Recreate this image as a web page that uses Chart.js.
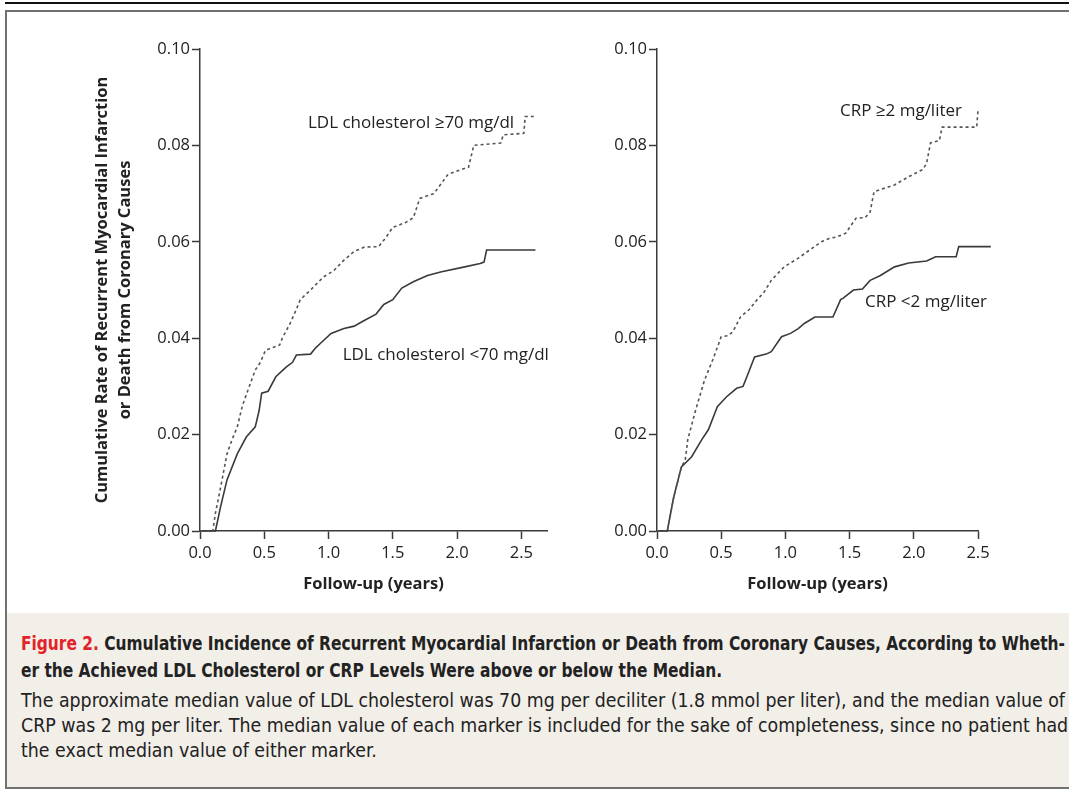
<!DOCTYPE html>
<html>
<head>
<meta charset="utf-8">
<script src="https://cdn.jsdelivr.net/npm/chart.js@4.4.0/dist/chart.umd.min.js"></script>
<style>
  body { margin: 0; width: 1069px; height: 792px; background: #fff; position: relative; overflow: hidden; font-family: "Open Sans", sans-serif; }
  #topline { position: absolute; left: 5px; top: 2px; width: 1064px; height: 2px; background: #111; }
  #panel { position: absolute; left: 5px; top: 10px; width: 1070px; height: 601px; border: 2px solid #717171; border-right: none; background: #fff; }
  #caption { position: absolute; left: 5px; top: 613px; width: 1070px; height: 174px; border: 2px solid #717171; border-top: none; border-right: none; background: #f2eee8; }
  #caption div { position: absolute; left: 14px; white-space: nowrap; font-family: "DejaVu Sans", sans-serif; font-stretch: condensed; color: #222; transform-origin: 0 50%; }
  .b { font-weight: bold; font-size: 20px; }
  .r { font-size: 20px; }
  .red { color: #e2232a; }
  canvas { position: absolute; }
</style>
</head>
<body>
<div id="topline"></div>
<div id="panel"></div>
<canvas id="ldlChart" width="500" height="581" style="left:80px; top:20px;"></canvas>
<canvas id="crpChart" width="461" height="581" style="left:537px; top:20px;"></canvas>
<div id="caption">
  <div class="b" data-group="b" style="top:18px"><span class="red">Figure 2.</span> Cumulative Incidence of Recurrent Myocardial Infarction or Death from Coronary Causes, According to Wheth-</div>
  <div class="b" data-group="b" style="top:45px">er the Achieved LDL Cholesterol or CRP Levels Were above or below the Median.</div>
  <div class="r" data-group="r" style="top:75px">The approximate median value of LDL cholesterol was 70 mg per deciliter (1.8 mmol per liter), and the median value of</div>
  <div class="r" data-group="r" style="top:100px">CRP was 2 mg per liter. The median value of each marker is included for the sake of completeness, since no patient had</div>
  <div class="r" data-group="r" style="top:125px">the exact median value of either marker.</div>
</div>
<script>
// datos (años de seguimiento / tasa acumulada)
const ldlHighT = [0, 0.10, 0.12, 0.16, 0.21, 0.25, 0.29, 0.33, 0.37, 0.43, 0.47, 0.51, 0.56, 0.62, 0.64, 0.70, 0.75, 0.78, 0.86, 0.96, 1.04, 1.12, 1.20, 1.28, 1.39, 1.45, 1.50, 1.60, 1.66, 1.71, 1.82, 1.93, 2.09, 2.13, 2.34, 2.36, 2.52, 2.53, 2.61];
const ldlHighR = [0, 0, 0.0037, 0.009, 0.016, 0.019, 0.0216, 0.026, 0.029, 0.0334, 0.035, 0.0375, 0.038, 0.0386, 0.040, 0.043, 0.046, 0.048, 0.050, 0.0527, 0.054, 0.0562, 0.058, 0.0589, 0.059, 0.061, 0.063, 0.064, 0.065, 0.069, 0.070, 0.074, 0.0755, 0.080, 0.0805, 0.0822, 0.0825, 0.086, 0.086];

const ldlLowT = [0, 0.12, 0.16, 0.21, 0.29, 0.36, 0.43, 0.46, 0.48, 0.53, 0.59, 0.67, 0.72, 0.75, 0.86, 0.90, 0.94, 1.02, 1.12, 1.20, 1.26, 1.37, 1.43, 1.50, 1.57, 1.66, 1.77, 1.88, 2.06, 2.18, 2.21, 2.23, 2.61];
const ldlLowR = [0, 0, 0.005, 0.0106, 0.016, 0.0195, 0.0216, 0.025, 0.0286, 0.029, 0.032, 0.034, 0.035, 0.0365, 0.0367, 0.038, 0.039, 0.041, 0.042, 0.0425, 0.0434, 0.045, 0.047, 0.048, 0.0504, 0.0517, 0.053, 0.0538, 0.0548, 0.0555, 0.0558, 0.0583, 0.0583];

const crpHighT = [0, 0.08, 0.13, 0.19, 0.22, 0.24, 0.30, 0.37, 0.44, 0.50, 0.55, 0.59, 0.65, 0.72, 0.78, 0.83, 0.89, 0.99, 1.10, 1.21, 1.28, 1.34, 1.40, 1.47, 1.55, 1.62, 1.66, 1.69, 1.85, 1.96, 2.07, 2.10, 2.13, 2.20, 2.22, 2.49, 2.50, 2.60];
const crpHighR = [0, 0, 0.007, 0.0133, 0.0147, 0.019, 0.025, 0.0313, 0.0359, 0.0403, 0.0405, 0.0413, 0.0444, 0.046, 0.048, 0.0494, 0.052, 0.0548, 0.0566, 0.0587, 0.060, 0.0607, 0.061, 0.0618, 0.0649, 0.065, 0.0662, 0.0704, 0.0718, 0.0735, 0.075, 0.0763, 0.0805, 0.081, 0.0838, 0.0838, 0.0873, 0.0873];

const crpLowT = [0, 0.08, 0.13, 0.19, 0.27, 0.35, 0.40, 0.47, 0.54, 0.62, 0.67, 0.70, 0.76, 0.85, 0.89, 0.97, 1.04, 1.10, 1.15, 1.23, 1.37, 1.43, 1.45, 1.53, 1.60, 1.66, 1.74, 1.85, 1.96, 2.10, 2.17, 2.33, 2.35, 2.60];
const crpLowR = [0, 0, 0.007, 0.0133, 0.0154, 0.019, 0.021, 0.0258, 0.0278, 0.0296, 0.030, 0.032, 0.0361, 0.0367, 0.0372, 0.0403, 0.041, 0.042, 0.0431, 0.0444, 0.0444, 0.048, 0.0483, 0.050, 0.0502, 0.052, 0.053, 0.0548, 0.0556, 0.056, 0.0569, 0.0569, 0.059, 0.059];

const yTicks = [0, 0.02, 0.04, 0.06, 0.08, 0.10];
const xTicks = [0, 0.5, 1.0, 1.5, 2.0, 2.5];

const ldlLabels = ['LDL cholesterol ≥70 mg/dl', 'LDL cholesterol <70 mg/dl'];
const crpLabels = ['CRP ≥2 mg/liter', 'CRP <2 mg/liter'];

const ink = '#3a3a3a';

const toPoints = (t, r) => t.map((x, i) => ({x: x, y: r[i]}));

// etiquetas de las curvas, ancladas en unidades de datos
const curveLabels = {
  id: 'curveLabels',
  afterDatasetsDraw(chart, args, opts) {
    const {ctx, scales: {x, y}} = chart;
    ctx.save();
    ctx.font = '17px "Open Sans", sans-serif';
    ctx.fillStyle = '#222';
    ctx.textBaseline = 'middle';
    ctx.textAlign = 'left';
    opts.items.forEach(it => {
      ctx.fillText(it.text, x.getPixelForValue(it.t), y.getPixelForValue(it.r));
    });
    ctx.restore();
  }
};

function makeChart(id, high, low, xMax, yTitle, anchors, labels) {
  const tickFont = {family: '"Open Sans", sans-serif', size: 16.5};
  const titleFont = {family: '"Open Sans", sans-serif', size: 16.5, weight: 'bold', lineHeight: 1.4};
  return new Chart(document.getElementById(id), {
    type: 'line',
    data: {
      datasets: [
        {data: high, borderColor: '#555', borderWidth: 1.6, borderDash: [3, 3], pointRadius: 0, tension: 0, fill: false, clip: false},
        {data: low, borderColor: ink, borderWidth: 1.6, pointRadius: 0, tension: 0, fill: false, clip: false}
      ]
    },
    options: {
      responsive: false,
      animation: false,
      devicePixelRatio: 1,
      layout: {padding: {top: 29, right: id === 'ldlChart' ? 33 : 20, bottom: 0, left: 0}},
      plugins: {
        legend: {display: false},
        tooltip: {enabled: false},
        curveLabels: {items: labels.map((text, i) => ({text: text, t: anchors[i][0], r: anchors[i][1]}))}
      },
      scales: {
        x: {
          type: 'linear',
          min: 0,
          max: xMax,
          afterFit: s => { s.height = 70; },
          afterBuildTicks: s => { s.ticks = xTicks.map(v => ({value: v})); },
          ticks: {font: tickFont, color: '#222', padding: 4, callback: v => v.toFixed(1), maxRotation: 0, autoSkip: false},
          grid: {drawOnChartArea: false, drawTicks: true, tickLength: 8, tickColor: ink, tickWidth: 1.5},
          border: {display: true, color: ink, width: 1.5},
          title: {display: true, text: 'Follow-up (years)', font: {family: '"Open Sans", sans-serif', size: 16.5, weight: 'bold', lineHeight: 1.2}, color: '#222', padding: {top: 0, bottom: 7}}
        },
        y: {
          min: 0,
          max: 0.1,
          afterFit: s => { s.width = 120; },
          afterBuildTicks: s => { s.ticks = yTicks.map(v => ({value: v})); },
          ticks: {font: tickFont, color: '#222', padding: 2, callback: v => v.toFixed(2)},
          grid: {drawOnChartArea: false, drawTicks: true, tickLength: 8, tickColor: ink, tickWidth: 1.5},
          border: {display: true, color: ink, width: 1.5},
          title: {display: !!yTitle, text: yTitle, font: titleFont, color: '#222', padding: {top: 11, bottom: 0}}
        }
      }
    },
    plugins: [curveLabels]
  });
}

makeChart('ldlChart', toPoints(ldlHighT, ldlHighR), toPoints(ldlLowT, ldlLowR), 2.7,
  ['Cumulative Rate of Recurrent Myocardial Infarction', 'or Death from Coronary Causes'],
  [[0.84, 0.0846], [1.11, 0.0365]], ldlLabels);

makeChart('crpChart', toPoints(crpHighT, crpHighR), toPoints(crpLowT, crpLowR), 2.5,
  '', [[1.425, 0.0871], [1.62, 0.0475]], crpLabels);

// ajustar el ancho del pie de figura (letra condensada)
['b', 'r'].forEach(g => {
  const lines = document.querySelectorAll(`#caption div[data-group="${g}"]`);
  const w = lines[0].getBoundingClientRect().width;
  const k = 1044 / w;
  lines.forEach(el => { el.style.transform = `scaleX(${k})`; });
});
</script>
</body>
</html>
